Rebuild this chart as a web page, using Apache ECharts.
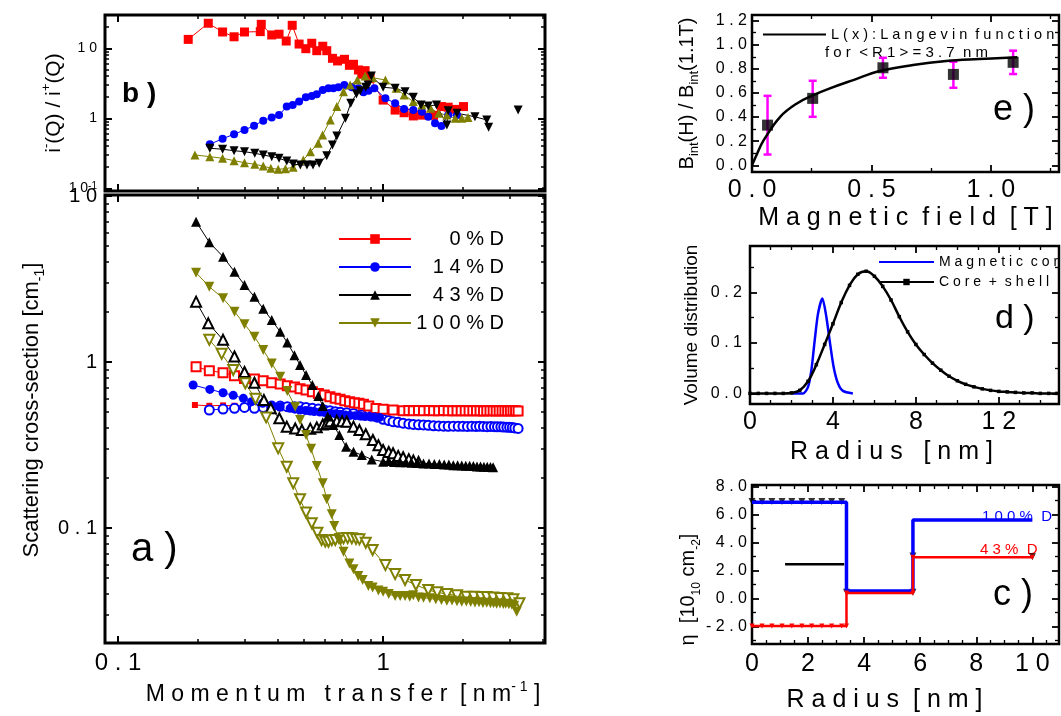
<!DOCTYPE html>
<html>
<head>
<meta charset="utf-8">
<script src="https://cdn.jsdelivr.net/npm/echarts@6/dist/echarts.min.js"></script>
<style>
html, body { margin: 0; background: #fff; }
#main { width: 1061px; height: 716px; }
</style>
</head>
<body>
<div id="main"></div>
<script>
// ---- panel a: scattering cross-section vs momentum transfer ----
var aRedOpen = [[0.197,0.937],[0.221,0.887],[0.249,0.862],[0.275,0.827],[0.300,0.797],[0.327,0.790],[0.353,0.771],[0.380,0.750],[0.409,0.737],[0.435,0.720],[0.463,0.707],[0.486,0.690],[0.512,0.678],[0.541,0.662],[0.570,0.647],[0.600,0.633],[0.630,0.618],[0.660,0.604],[0.688,0.596],[0.717,0.585],[0.747,0.577],[0.779,0.569],[0.810,0.564],[0.843,0.556],[0.883,0.543],[0.94,0.525],[1.0,0.519],[1.09,0.514],[1.19,0.509],[1.25,0.51],[1.30,0.509],[1.36,0.51],[1.42,0.509],[1.49,0.51],[1.55,0.508],[1.62,0.509],[1.69,0.51],[1.76,0.508],[1.83,0.509],[1.9,0.508],[1.97,0.509],[2.04,0.508],[2.11,0.509],[2.18,0.508],[2.25,0.509],[2.32,0.508],[2.39,0.507],[2.46,0.508],[2.53,0.509],[2.6,0.508],[2.67,0.507],[2.74,0.508],[2.81,0.509],[2.88,0.508],[2.95,0.507],[3.02,0.508],[3.09,0.509],[3.16,0.508],[3.23,0.507]];
var aRedFill = [[0.195,0.551],[0.221,0.545],[0.249,0.548],[0.275,0.545],[0.300,0.54],[0.327,0.537],[0.353,0.535],[0.380,0.53],[0.409,0.527],[0.44,0.522],[0.48,0.518],[0.53,0.513],[0.6,0.508],[0.7,0.5],[0.8,0.495]];
var aBlueOpen = [[0.221,0.514],[0.249,0.521],[0.275,0.526],[0.300,0.533],[0.327,0.526],[0.353,0.533],[0.380,0.538],[0.409,0.543],[0.435,0.538],[0.463,0.538],[0.486,0.538],[0.512,0.533],[0.541,0.526],[0.570,0.521],[0.600,0.514],[0.630,0.509],[0.660,0.502],[0.690,0.498],[0.729,0.495],[0.773,0.49],[0.831,0.48],[0.906,0.473],[0.95,0.465],[1.0,0.452],[1.05,0.444],[1.09,0.437],[1.14,0.433],[1.19,0.428],[1.25,0.424],[1.30,0.421],[1.36,0.419],[1.42,0.418],[1.48,0.416],[1.55,0.413],[1.62,0.412],[1.69,0.411],[1.76,0.41],[1.84,0.411],[1.92,0.41],[2.0,0.41],[2.08,0.409],[2.16,0.41],[2.24,0.409],[2.31,0.41],[2.39,0.409],[2.47,0.408],[2.55,0.409],[2.63,0.408],[2.7,0.407],[2.78,0.407],[2.85,0.406],[2.93,0.405],[3.0,0.404],[3.07,0.403],[3.14,0.401],[3.23,0.398]];
var aBlueFill = [[0.192,0.727],[0.222,0.684],[0.249,0.653],[0.272,0.630],[0.297,0.604],[0.319,0.577],[0.351,0.564],[0.380,0.551],[0.409,0.538],[0.446,0.526],[0.465,0.52],[0.486,0.514],[0.51,0.51],[0.531,0.507],[0.55,0.503],[0.578,0.500],[0.6,0.497],[0.632,0.491],[0.66,0.488],[0.688,0.484],[0.72,0.48],[0.751,0.477],[0.785,0.475],[0.820,0.473],[0.855,0.47],[0.893,0.468],[0.93,0.466],[0.97,0.464]];
var aBlackOpen = [[0.197,2.31],[0.219,1.71],[0.249,1.36],[0.275,1.08],[0.300,0.87],[0.327,0.75],[0.355,0.59],[0.377,0.526],[0.406,0.458],[0.433,0.408],[0.466,0.398],[0.494,0.389],[0.531,0.397],[0.562,0.404],[0.592,0.42],[0.613,0.428],[0.632,0.44],[0.669,0.443],[0.700,0.44],[0.729,0.437],[0.773,0.408],[0.814,0.389],[0.860,0.367],[0.915,0.339],[0.96,0.315],[1.0,0.295],[1.05,0.287],[1.09,0.282],[1.14,0.272],[1.19,0.267],[1.25,0.26],[1.30,0.255],[1.36,0.25]];
var aBlackFill = [[0.197,7.0],[0.221,5.26],[0.249,4.31],[0.275,3.50],[0.300,2.91],[0.327,2.47],[0.353,2.09],[0.380,1.79],[0.409,1.52],[0.435,1.31],[0.463,1.10],[0.486,0.96],[0.512,0.835],[0.541,0.726],[0.570,0.624],[0.592,0.543],[0.618,0.469],[0.649,0.417],[0.684,0.363],[0.725,0.309],[0.773,0.288],[0.831,0.275],[0.906,0.259],[1.0,0.251],[1.05,0.253],[1.1,0.25],[1.16,0.249],[1.22,0.249],[1.28,0.247],[1.35,0.247],[1.42,0.245],[1.49,0.245],[1.56,0.243],[1.63,0.243],[1.7,0.241],[1.77,0.241],[1.84,0.239],[1.91,0.239],[1.98,0.238],[2.05,0.237],[2.12,0.237],[2.19,0.236],[2.26,0.235],[2.33,0.235],[2.4,0.234],[2.47,0.234],[2.54,0.233],[2.6,0.232]];
var aOliveOpen = [[0.221,1.36],[0.246,1.12],[0.272,0.895],[0.302,0.744],[0.33,0.6],[0.362,0.464],[0.402,0.302],[0.433,0.234],[0.458,0.186],[0.486,0.149],[0.512,0.124],[0.538,0.107],[0.565,0.0937],[0.586,0.0847],[0.605,0.083],[0.622,0.0827],[0.640,0.0845],[0.660,0.0847],[0.690,0.086],[0.709,0.0867],[0.735,0.087],[0.762,0.0867],[0.790,0.086],[0.814,0.0855],[0.860,0.0816],[0.913,0.0737],[1.02,0.0598],[1.11,0.0528],[1.21,0.0486],[1.33,0.0454],[1.48,0.0423],[1.6,0.041],[1.74,0.040],[1.9,0.0393],[2.06,0.0386],[2.2,0.0385],[2.34,0.0384],[2.46,0.0384],[2.6,0.0381],[2.76,0.0379],[2.94,0.0377],[3.1,0.0372],[3.27,0.0352]];
var aOliveFill = [[0.197,3.45],[0.221,2.84],[0.249,2.42],[0.275,2.01],[0.300,1.69],[0.327,1.42],[0.353,1.18],[0.380,0.98],[0.409,0.816],[0.435,0.668],[0.466,0.538],[0.486,0.447],[0.512,0.363],[0.535,0.30],[0.562,0.236],[0.592,0.186],[0.613,0.149],[0.640,0.121],[0.654,0.103],[0.68,0.085],[0.709,0.072],[0.746,0.0612],[0.773,0.0564],[0.806,0.0514],[0.837,0.0486],[0.880,0.0447],[0.913,0.0439],[0.96,0.042],[1.0,0.0413],[1.05,0.040],[1.11,0.0389],[1.16,0.039],[1.21,0.0389],[1.26,0.0386],[1.30,0.0394],[1.36,0.0382],[1.42,0.038],[1.5,0.0377],[1.58,0.0372],[1.66,0.0368],[1.74,0.0365],[1.82,0.0366],[1.9,0.0362],[1.98,0.036],[2.06,0.0361],[2.14,0.0359],[2.22,0.0356],[2.3,0.0357],[2.38,0.0354],[2.46,0.0355],[2.54,0.0352],[2.61,0.0352],[2.68,0.035],[2.76,0.0351],[2.84,0.0349],[2.9,0.035],[2.98,0.0348],[3.06,0.0345],[3.12,0.034],[3.19,0.0313]];

// ---- panel b: ratio i-(Q)/i+(Q) ----
var bRed = [[0.184,13.4],[0.219,22.8],[0.248,17.1],[0.274,14.6],[0.300,17.1],[0.344,17.3],[0.347,22.0],[0.380,15.5],[0.405,15.9],[0.431,12.7],[0.454,21.3],[0.482,11.5],[0.511,9.87],[0.538,11.8],[0.562,9.24],[0.592,10.7],[0.613,9.24],[0.644,7.19],[0.673,6.59],[0.715,6.96],[0.746,5.71],[0.773,5.91],[0.807,4.90],[0.831,4.29],[0.855,4.79],[0.893,3.73],[1.0,1.82],[1.11,1.31],[1.2,1.2],[1.30,1.08],[1.40,1.11],[1.55,1.1],[1.66,1.47],[1.76,1.44],[1.87,1.34],[2.01,1.47]];
var bBlue = [[0.222,0.425],[0.248,0.511],[0.274,0.591],[0.300,0.681],[0.326,0.784],[0.353,0.925],[0.380,1.03],[0.405,1.11],[0.433,1.47],[0.456,1.55],[0.482,1.73],[0.511,2.0],[0.538,2.08],[0.562,2.20],[0.592,2.54],[0.622,2.68],[0.649,2.68],[0.678,2.77],[0.714,2.99],[0.762,2.77],[0.807,2.68],[0.843,2.35],[0.881,2.48],[0.927,2.68],[1.02,1.93],[1.11,1.64],[1.20,1.36],[1.30,1.31],[1.40,1.24],[1.48,1.05],[1.57,0.85],[1.66,0.776],[1.76,1.11],[1.90,1.11]];
var bOlive = [[0.195,0.299],[0.222,0.283],[0.248,0.268],[0.274,0.248],[0.300,0.232],[0.328,0.220],[0.353,0.208],[0.377,0.193],[0.402,0.187],[0.428,0.19],[0.458,0.2],[0.500,0.254],[0.532,0.333],[0.569,0.44],[0.591,0.577],[0.632,0.946],[0.669,1.47],[0.709,2.40],[0.751,2.99],[0.799,3.52],[0.855,4.02],[0.913,3.80],[1.02,3.52],[1.12,2.68],[1.20,2.15],[1.30,1.73],[1.40,1.55],[1.51,1.39],[1.62,1.18],[1.74,1.11],[1.87,1.0],[1.98,1.0],[2.09,1.03]];
var bBlack = [[0.222,0.373],[0.248,0.361],[0.274,0.344],[0.300,0.333],[0.328,0.316],[0.353,0.299],[0.380,0.283],[0.405,0.268],[0.433,0.245],[0.458,0.222],[0.487,0.215],[0.516,0.215],[0.544,0.215],[0.574,0.228],[0.613,0.292],[0.644,0.416],[0.669,0.559],[0.721,1.0],[0.755,1.64],[0.793,2.22],[0.820,2.48],[0.860,2.77],[0.878,2.99],[0.903,4.02],[1.0,2.77],[1.11,2.68],[1.21,2.40],[1.30,2.0],[1.39,1.55],[1.48,1.50],[1.59,1.55],[1.74,0.80],[1.76,1.28],[1.90,1.18],[2.22,1.05],[2.46,0.946],[2.50,0.743],[2.8,null],[3.23,1.31]];

// ---- panel e: magnetisation vs field ----
var eField = [0.065, 0.254, 0.548, 0.843, 1.093];
var eRatio = [0.333, 0.555, 0.809, 0.754, 0.854];
var eLow = [0.089, 0.402, 0.726, 0.643, 0.757];
var eHigh = [0.576, 0.701, 0.892, 0.859, 0.951];
var eLangevin = [[0,0],[0.02,0.09],[0.049,0.208],[0.118,0.402],[0.188,0.513],[0.257,0.582],[0.326,0.638],[0.424,0.707],[0.535,0.782],[0.674,0.832],[0.813,0.865],[0.951,0.881],[1.111,0.896]];

// ---- panel d: volume distributions ----
var dShell = [[0,0],[0.4,0],[0.8,0],[1.2,0],[1.6,0],[2.0,0.001],[2.4,0.006],[2.8,0.024],[3.2,0.057],[3.6,0.097],[4.0,0.138],[4.4,0.18],[4.8,0.214],[5.2,0.236],[5.6,0.242],[6.0,0.232],[6.4,0.212],[6.8,0.185],[7.2,0.152],[7.6,0.122],[8.0,0.097],[8.4,0.077],[8.8,0.06],[9.2,0.046],[9.6,0.034],[10.0,0.025],[10.4,0.018],[10.8,0.013],[11.2,0.009],[11.6,0.006],[12.0,0.004],[12.4,0.003],[12.8,0.002],[13.2,0.001],[13.6,0.001],[14.0,0],[14.4,0],[14.8,0]];
var dCore = [[2.0,0],[2.56,0],[2.8,0.013],[2.96,0.046],[3.12,0.105],[3.28,0.158],[3.49,0.188],[3.68,0.152],[3.84,0.105],[4.03,0.053],[4.24,0.02],[4.48,0.005],[4.96,0]];

// ---- panel c: scattering length density profiles ----
var cBlue = [[0,6.88],[3.37,6.88],[3.37,0.55],[5.74,0.55],[5.74,5.62],[10,5.62]];
var cRed = [[0,-1.95],[0.36,-1.95],[0.71,-1.95],[1.07,-1.95],[1.42,-1.95],[1.78,-1.95],[2.13,-1.95],[2.49,-1.95],[2.84,-1.95],[3.2,-1.95],[3.37,-1.95],[3.37,0.4],[5.74,0.4],[5.74,2.95],[10,2.95]];
var cMarks = [[0,6.95],[0.36,6.95],[0.71,6.95],[1.07,6.95],[1.42,6.95],[1.78,6.95],[2.13,6.95],[2.49,6.95],[2.84,6.95],[3.2,6.95],[3.37,0.45],[5.74,0.45],[5.74,3.05],[10,3.0]];
var cBlack = [[1.18,2.45],[3.29,2.45]];

// ---- ticks ----
var qMajor = [0.1, 1];
var qMinor = [0.2,0.3,0.4,0.5,0.6,0.7,0.8,0.9,2,3,4];
var aMajor = [0.1, 1, 10];
var aMinor = [0.03,0.04,0.05,0.06,0.07,0.08,0.09,0.2,0.3,0.4,0.5,0.6,0.7,0.8,0.9,2,3,4,5,6,7,8,9];
var bMajor = [0.1, 1, 10];
var bMinor = [0.2,0.3,0.4,0.5,0.6,0.7,0.8,0.9,2,3,4,5,6,7,8,9,20];
var eMajorX = [0, 0.5, 1.0];
var eMinorX = [0.25, 0.75, 1.25];
var eMajorY = [0, 0.2, 0.4, 0.6, 0.8, 1.0, 1.2];
var eMinorY = [0.1, 0.3, 0.5, 0.7, 0.9, 1.1];
var dMajorX = [0, 4, 8, 12];
var dMinorX = [1,2,3,5,6,7,9,10,11,13,14];
var dMajorY = [0, 0.1, 0.2];
var dMinorY = [0.05, 0.15, 0.25];
var cMajorX = [0, 2, 4, 6, 8, 10];
var cMinorX = [0.5,1,1.5,2.5,3,3.5,4.5,5,5.5,6.5,7,7.5,8.5,9,9.5,10.5];
var cMajorY = [-2, 0, 2, 4, 6, 8];
var cMinorY = [-3, -1, 1, 3, 5, 7];

var FONT = "'Liberation Sans', Arial, sans-serif";
function sp(s) { return String(s).split('').join(' '); }

var xAxes = [], yAxes = [];
// builds the main axis, the mirrored one and the minor-tick overlays for one side pair
function frame(list, dim, grid, type, min, max, major, minor, main, tw) {
    var sides = dim === 'x' ? ['bottom', 'top'] : ['left', 'right'];
    var first = list.length;
    sides.forEach(function (p, k) {
        var ax = {
            gridIndex: grid, type: type, min: min, max: max, position: p,
            axisLine: {show: false, onZero: false}, splitLine: {show: false},
            axisTick: {show: true, inside: true, length: 7, customValues: major, lineStyle: {color: '#000', width: tw}},
            axisLabel: {show: false}
        };
        if (k === 0 && main) Object.assign(ax, main);
        list.push(ax);
        if (minor) list.push({
            gridIndex: grid, type: type, min: min, max: max, position: p,
            axisLine: {show: false, onZero: false}, splitLine: {show: false}, axisLabel: {show: false},
            axisTick: {show: true, inside: true, length: 4, customValues: minor, lineStyle: {color: '#000', width: tw * 0.75}}
        });
    });
    return first;
}

// panel b (grid 0)
var bX = frame(xAxes, 'x', 0, 'log', 0.0893, 4.08, qMajor, qMinor, null, 2);
var bY = frame(yAxes, 'y', 0, 'log', 0.0914, 29.9, bMajor, bMinor, {
    axisLabel: {
        show: true, customValues: bMajor, margin: 8, color: '#000', fontSize: 14, fontFamily: FONT,
        formatter: function (v) { return v > 5 ? '1 0' : (v > 0.5 ? '1' : '{m|1 0}{s|-1}'); },
        rich: {m: {fontSize: 14, fontFamily: FONT}, s: {fontSize: 10, fontFamily: FONT, verticalAlign: 'top', lineHeight: 10}}
    },
    name: '{t|i}{p|-}{t|(Q) / i}{p|+}{t|(Q)}', nameLocation: 'middle', nameRotate: 90, nameGap: 36,
    nameTextStyle: {rich: {t: {fontSize: 21, lineHeight: 28, fontFamily: FONT, color: '#000'}, p: {fontSize: 13, lineHeight: 13, verticalAlign: 'top', fontFamily: FONT, color: '#000'}}}
}, 2);

// panel a (grid 1)
var aX = frame(xAxes, 'x', 1, 'log', 0.0893, 4.08, qMajor, qMinor, {
    axisLabel: {
        show: true, customValues: qMajor, margin: 8, color: '#000', fontSize: 24, fontFamily: FONT,
        formatter: function (v) { return v < 0.5 ? '0 . 1' : '1'; }
    },
    name: '{t|M o m e n t u m   t r a n s f e r  [ n m}{p|- 1}{t| ]}', nameLocation: 'middle', nameGap: 35,
    nameTextStyle: {padding: [0, 0, 0, 36], rich: {t: {fontSize: 23, lineHeight: 30, fontFamily: FONT, color: '#000'}, p: {fontSize: 14, lineHeight: 14, verticalAlign: 'top', fontFamily: FONT, color: '#000'}}}
}, 2);
var aY = frame(yAxes, 'y', 1, 'log', 0.0203, 10.14, aMajor, aMinor, {
    axisLabel: {
        show: true, customValues: aMajor, margin: 8, color: '#000', fontSize: 20, fontFamily: FONT,
        formatter: function (v) { return v > 5 ? '1 0' : (v > 0.5 ? '1' : '0 . 1'); }
    },
    name: '{t|Scattering cross-section [cm}{s|-1}{t|]}', nameLocation: 'middle', nameRotate: 90, nameGap: 58,
    nameTextStyle: {padding: [0, 0, 0, 18], rich: {t: {fontSize: 22, lineHeight: 30, fontFamily: FONT, color: '#000'}, s: {fontSize: 14, lineHeight: 14, verticalAlign: 'bottom', fontFamily: FONT, color: '#000'}}}
}, 2);

// panel e (grid 2)
var eX = frame(xAxes, 'x', 2, 'value', 0, 1.285, eMajorX, eMinorX, {
    axisLabel: {show: true, customValues: eMajorX, margin: 6, color: '#000', fontSize: 25, fontFamily: FONT,
        formatter: function (v) { return sp(v.toFixed(1)); }},
    name: 'M a g n e t i c  f i e l d  [ T ]', nameLocation: 'middle', nameGap: 29,
    nameTextStyle: {fontSize: 25, lineHeight: 28, fontFamily: FONT, color: '#000'}
}, 1.8);
var eY = frame(yAxes, 'y', 2, 'value', -0.056, 1.247, eMajorY, eMinorY, {
    axisLabel: {show: true, customValues: eMajorY, margin: 5, color: '#000', fontSize: 16, fontFamily: FONT,
        formatter: function (v) { return sp(v.toFixed(1)); }},
    name: '{t|B}{s|int}{t|(H) / B}{s|int}{t|(1.1T)}', nameLocation: 'middle', nameRotate: 90, nameGap: 51,
    nameTextStyle: {rich: {t: {fontSize: 20, lineHeight: 28, fontFamily: FONT, color: '#000'}, s: {fontSize: 13, lineHeight: 13, verticalAlign: 'bottom', fontFamily: FONT, color: '#000'}}}
}, 1.8);

// panel d (grid 3)
var dX = frame(xAxes, 'x', 3, 'value', 0, 14.9, dMajorX, dMinorX, {
    axisLabel: {show: true, customValues: dMajorX, margin: 6, color: '#000', fontSize: 25, fontFamily: FONT,
        formatter: function (v) { return sp(v); }},
    name: 'R a d i u s   [ n m ]', nameLocation: 'middle', nameGap: 34,
    nameTextStyle: {fontSize: 25, lineHeight: 28, fontFamily: FONT, color: '#000', padding: [0, 26, 0, 0]}
}, 1.8);
var dY = frame(yAxes, 'y', 3, 'value', -0.021, 0.292, dMajorY, dMinorY, {
    axisLabel: {show: true, customValues: dMajorY, margin: 8, color: '#000', fontSize: 16, fontFamily: FONT,
        formatter: function (v) { return sp(v.toFixed(1)); }},
    name: 'Volume distribution', nameLocation: 'middle', nameRotate: 90, nameGap: 49,
    nameTextStyle: {fontSize: 19, fontFamily: FONT, color: '#000'}
}, 1.8);

// panel c (grid 4)
var cX = frame(xAxes, 'x', 4, 'value', 0, 10.95, cMajorX, cMinorX, {
    axisLabel: {show: true, customValues: cMajorX, margin: 8, color: '#000', fontSize: 25, fontFamily: FONT,
        formatter: function (v) { return sp(v); }},
    name: 'R a d i u s  [ n m ]', nameLocation: 'middle', nameGap: 42,
    nameTextStyle: {fontSize: 25, lineHeight: 28, fontFamily: FONT, color: '#000', padding: [0, 42, 0, 0]}
}, 1.8);
var cY = frame(yAxes, 'y', 4, 'value', -3.24, 8.12, cMajorY, cMinorY, {
    axisLabel: {show: true, customValues: cMajorY, margin: 5, color: '#000', fontSize: 16, fontFamily: FONT,
        formatter: function (v) { return sp(v.toFixed(1)); }},
    name: '{t|η  [10}{s|10}{t| cm}{s|-2}{t|]}', nameLocation: 'middle', nameRotate: 90, nameGap: 41,
    nameTextStyle: {padding: [0, 50, 0, 0], rich: {t: {fontSize: 20, lineHeight: 28, fontFamily: FONT, color: '#000'}, s: {fontSize: 12, lineHeight: 12, verticalAlign: 'bottom', fontFamily: FONT, color: '#000'}}}
}, 1.8);

function ser(name, data, xi, yi, color, symbol, size, extra) {
    var s = {
        name: name, type: 'line', data: data, xAxisIndex: xi, yAxisIndex: yi,
        symbol: symbol, symbolSize: size, showSymbol: symbol !== 'none',
        lineStyle: {color: color, width: 1}, itemStyle: {color: color, borderWidth: 1.2},
        emphasis: {disabled: true}
    };
    return Object.assign(s, extra || {});
}

var series = [
    // b
    ser('b-red', bRed, bX, bY, '#ff0000', 'rect', 9),
    ser('b-blue', bBlue, bX, bY, '#0000ff', 'circle', 8),
    ser('b-olive', bOlive, bX, bY, '#808000', 'triangle', 9),
    ser('b-black', bBlack, bX, bY, '#000000', 'triangle', 9, {symbolRotate: 180}),
    // a
    ser('0% D', aRedFill, aX, aY, '#ff0000', 'rect', 6),
    ser('a-blue-open', aBlueOpen, aX, aY, '#0000ff', 'emptyCircle', 9),
    ser('a-red-open', aRedOpen, aX, aY, '#ff0000', 'emptyRect', 9),
    ser('14% D', aBlueFill, aX, aY, '#0000ff', 'circle', 9),
    ser('a-black-open', aBlackOpen, aX, aY, '#000000', 'emptyTriangle', 10),
    ser('43% D', aBlackFill, aX, aY, '#000000', 'triangle', 10),
    ser('a-olive-open', aOliveOpen, aX, aY, '#808000', 'emptyTriangle', 10, {symbolRotate: 180}),
    ser('100% D', aOliveFill, aX, aY, '#808000', 'triangle', 10, {symbolRotate: 180}),
    // e
    ser('L(x)', eLangevin, eX, eY, '#000000', 'none', 0, {smooth: 0.4, lineStyle: {color: '#000', width: 2.5}}),
    {
        type: 'custom', xAxisIndex: eX, yAxisIndex: eY,
        data: eField.map(function (h, i) { return [h, eLow[i], eHigh[i]]; }),
        encode: {x: 0, y: [1, 2]},
        renderItem: function (params, api) {
            var lo = api.coord([api.value(0), api.value(1)]);
            var hi = api.coord([api.value(0), api.value(2)]);
            var st = {stroke: '#ff00ff', lineWidth: 2.5};
            return {type: 'group', children: [
                {type: 'line', shape: {x1: lo[0], y1: lo[1], x2: hi[0], y2: hi[1]}, style: st},
                {type: 'line', shape: {x1: lo[0] - 4, y1: lo[1], x2: lo[0] + 4, y2: lo[1]}, style: st},
                {type: 'line', shape: {x1: hi[0] - 4, y1: hi[1], x2: hi[0] + 4, y2: hi[1]}, style: st}
            ]};
        }
    },
    {
        type: 'scatter', xAxisIndex: eX, yAxisIndex: eY, symbol: 'rect', symbolSize: 11,
        itemStyle: {color: '#000'},
        data: eField.map(function (h, i) { return [h, eRatio[i]]; })
    },
    // d
    ser('Magnetic core', dCore, dX, dY, '#0000ff', 'none', 0, {smooth: 0.25, lineStyle: {color: '#0000ff', width: 2.5}}),
    ser('Core + shell', dShell, dX, dY, '#000000', 'rect', 3.5, {smooth: 0.4, lineStyle: {color: '#000', width: 2.5}}),
    // c
    ser('c-blue', cBlue, cX, cY, '#0000ff', 'none', 0, {lineStyle: {color: '#0000ff', width: 3.5}}),
    ser('c-red', cRed, cX, cY, '#ff0000', 'triangle', 5, {symbolRotate: 180, lineStyle: {color: '#ff0000', width: 2.5}}),
    ser('c-black', cBlack, cX, cY, '#000000', 'none', 0, {lineStyle: {color: '#000', width: 2.5}}),
    {
        type: 'scatter', xAxisIndex: cX, yAxisIndex: cY, symbol: 'triangle', symbolRotate: 180, symbolSize: 7,
        itemStyle: {color: '#000'}, data: cMarks
    }
];

var aLegendText = {'0% D': '0 % D', '14% D': '1 4 % D', '43% D': '4 3 % D', '100% D': '1 0 0 % D'};

var option = {
    animation: false,
    backgroundColor: '#fff',
    textStyle: {fontFamily: FONT},
    grid: [
        {left: 105, top: 15, width: 440, height: 176, show: true, borderColor: '#000', borderWidth: 3, backgroundColor: 'transparent'},
        {left: 105, top: 195, width: 440, height: 448, show: true, borderColor: '#000', borderWidth: 3, backgroundColor: 'transparent'},
        {left: 752, top: 15, width: 307, height: 157, show: true, borderColor: '#000', borderWidth: 2.5, backgroundColor: 'transparent'},
        {left: 750, top: 246, width: 309, height: 158, show: true, borderColor: '#000', borderWidth: 2.5, backgroundColor: 'transparent'},
        {left: 752, top: 485, width: 307, height: 159, show: true, borderColor: '#000', borderWidth: 2.5, backgroundColor: 'transparent'}
    ],
    xAxis: xAxes,
    yAxis: yAxes,
    legend: [
        {
            data: ['0% D', '14% D', '43% D', '100% D'], orient: 'vertical', left: 333, top: 223,
            itemWidth: 72, itemHeight: 12, itemGap: 6, selectedMode: false,
            formatter: function (n) { return '{r|' + aLegendText[n] + '}'; },
            textStyle: {fontSize: 20, lineHeight: 22, color: '#000', fontFamily: FONT,
                rich: {r: {width: 88, align: 'right', fontSize: 20, fontFamily: FONT, color: '#000'}}}
        },
        {
            data: [{name: 'L(x)', itemStyle: {opacity: 0}}], left: 757, top: 22, itemWidth: 63, itemHeight: 10, selectedMode: false,
            formatter: function () { return 'L ( x ) : L a n g e v i n  f u n c t i o n'; },
            textStyle: {fontSize: 14.5, color: '#000', fontFamily: FONT}
        },
        {
            data: [{name: 'Magnetic core', itemStyle: {opacity: 0}}, {name: 'Core + shell'}], orient: 'vertical', left: 873, top: 250,
            itemWidth: 55, itemHeight: 8, itemGap: 6, selectedMode: false,
            formatter: function (n) { return n === 'Magnetic core' ? 'M a g n e t i c  c o r e' : 'C o r e  +  s h e l l'; },
            textStyle: {fontSize: 14, lineHeight: 14, color: '#000', fontFamily: FONT}
        }
    ],
    graphic: [
        {type: 'text', left: 122, top: 80, style: {text: 'b )', font: 'bold 28px ' + FONT, fill: '#000'}},
        {type: 'text', left: 131, top: 530, style: {text: 'a )', font: '40px ' + FONT, fill: '#000'}},
        {type: 'text', left: 993, top: 92, style: {text: 'e )', font: '36px ' + FONT, fill: '#000'}},
        {type: 'text', left: 995, top: 302, style: {text: 'd )', font: '34px ' + FONT, fill: '#000'}},
        {type: 'text', left: 993, top: 577, style: {text: 'c )', font: '36px ' + FONT, fill: '#000'}},
        {type: 'text', left: 825, top: 45, style: {text: 'f o r  < R 1 > = 3 . 7  n m', font: '15px ' + FONT, fill: '#000'}},
        {type: 'text', left: 982, top: 509, style: {text: '1 0 0 %  D', font: '15px ' + FONT, fill: '#0000ff'}},
        {type: 'text', left: 980, top: 542, style: {text: '4 3 %  D', font: '15px ' + FONT, fill: '#ff0000'}}
    ],
    series: series
};

var chart = echarts.init(document.getElementById('main'));
chart.setOption(option);
</script>
</body>
</html>
